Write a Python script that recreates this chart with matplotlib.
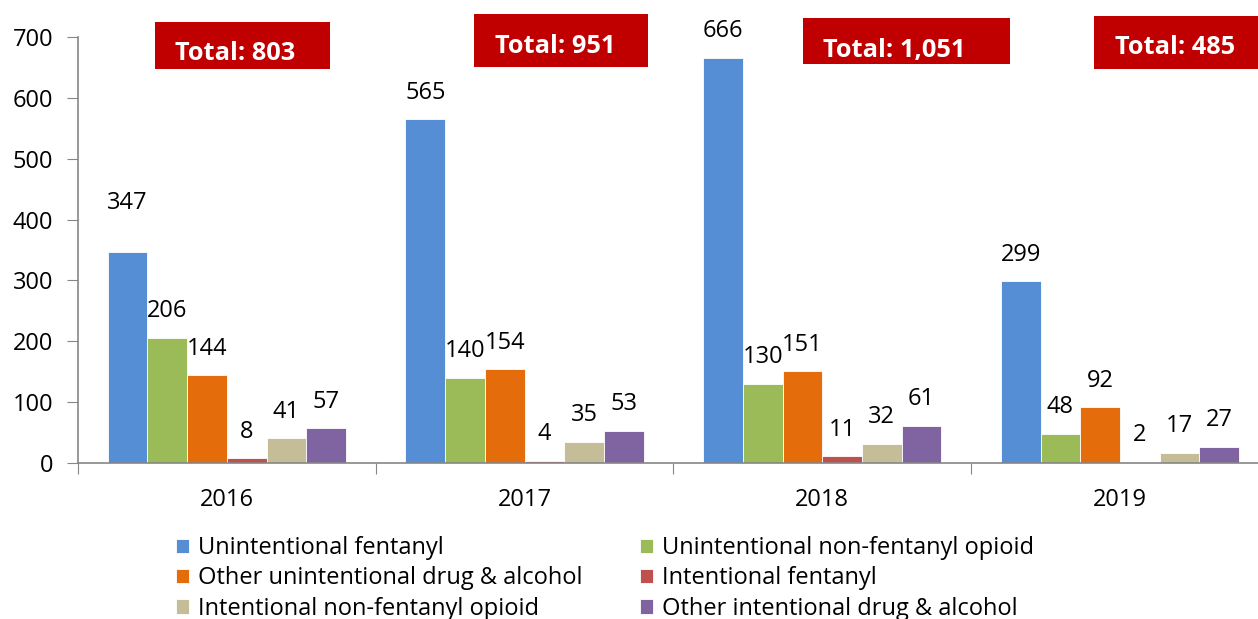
import matplotlib.pyplot as plt
from matplotlib.patches import Rectangle
import numpy as np

years = ["2016", "2017", "2018", "2019"]
series = [
    "Unintentional fentanyl",
    "Unintentional non-fentanyl opioid",
    "Other unintentional drug & alcohol",
    "Intentional fentanyl",
    "Intentional non-fentanyl opioid",
    "Other intentional drug & alcohol",
]
values = [
    [347, 565, 666, 299],
    [206, 140, 130, 48],
    [144, 154, 151, 92],
    [8, 4, 11, 2],
    [41, 35, 32, 17],
    [57, 53, 61, 27],
]
totals = ["803", "951", "1,051", "485"]
colors = ["#558ED5", "#9BBB59", "#E46C0A", "#C0504D", "#C4BD97", "#8064A2"]

plt.rcParams["font.family"] = ["Open Sans", "DejaVu Sans"]

W, H = 1258, 619
fig = plt.figure(figsize=(W / 100, H / 100), dpi=100)
ax = fig.add_axes([78 / W, 1 - 463 / H, 1190.8 / W, 426 / H])

x = np.arange(len(years)) + 0.5
w = 0.8 / len(series)
handles = []
for i, (name, vals) in enumerate(zip(series, values)):
    pos = x - 0.4 + w * (i + 0.5)
    b = ax.bar(pos, vals, w, color=colors[i], edgecolor="white", lw=0.6, label=name)
    handles.append(b)
    for j, (p, v) in enumerate(zip(pos, vals)):
        dy = 19 + (16 if (i, j) == (0, 0) else 0)
        ax.annotate(str(v), (p, v), xytext=(0, dy), textcoords="offset points",
                    ha="center", va="center", fontsize=17)

# "Total" boxes, pixel layout (x0, x1, y0, y1) and text left / baseline
boxes = [(155, 330, 22, 69), (474, 648, 14, 67), (803, 1010, 18, 64), (1094, 1270, 16, 69)]
text_pos = [(175, 60), (495, 53), (823, 57), (1115, 54)]
for t, (x0, x1, y0, y1), (tx, ty) in zip(totals, boxes, text_pos):
    fig.patches.append(Rectangle((x0 / W, 1 - y1 / H), (x1 - x0) / W, (y1 - y0) / H,
                                 transform=fig.transFigure, fc="#C00000", ec="none"))
    fig.text(tx / W, 1 - ty / H, f"Total: {t}", ha="left", va="baseline",
             color="white", fontsize=18.3, fontweight="bold")

ax.set_xlim(0, 4)
ax.set_ylim(0, 700)
ax.set_yticks(range(0, 701, 100))
ax.set_xticks(range(0, 5))
ax.set_xticklabels([])
ax.set_xticks(x, minor=True)
ax.set_xticklabels(years, minor=True, fontsize=17)
ax.tick_params(axis="x", which="minor", length=0, pad=18)
ax.tick_params(axis="x", which="major", length=8, color="#868686", direction="out")
ax.tick_params(axis="y", length=8, color="#868686", labelsize=17, pad=10)
for s in ["top", "right"]:
    ax.spines[s].set_visible(False)
for s in ["left", "bottom"]:
    ax.spines[s].set_color("#868686")
    ax.spines[s].set_linewidth(1.2)

order = [0, 2, 4, 1, 3, 5]
fig.legend([handles[k] for k in order], [series[k] for k in order], ncol=2,
           loc="upper left", bbox_to_anchor=(176 / W, 1 - 536 / H),
           frameon=False, fontsize=17, handlelength=0.55, handleheight=0.55,
           handletextpad=0.4, columnspacing=2.4, labelspacing=0.27,
           borderaxespad=0, borderpad=0)

fig.savefig("out.png", dpi=100)
